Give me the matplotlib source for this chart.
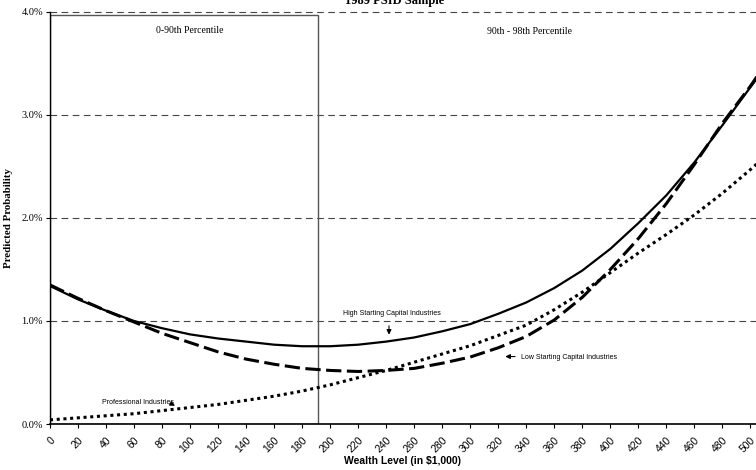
import matplotlib
matplotlib.use("Agg")
import matplotlib.pyplot as plt
from matplotlib.patches import Rectangle
from matplotlib.transforms import ScaledTranslation

# wealth level (in $1,000)
wealth = [0, 20, 40, 60, 80, 100, 120, 140, 160, 180, 200, 220, 240, 260,
          280, 300, 320, 340, 360, 380, 400, 420, 440, 460, 480, 500, 505]

# predicted probability (%)
high_capital = [1.34, 1.21, 1.10, 1.00, 0.93, 0.87, 0.83, 0.80, 0.77, 0.755,
                0.755, 0.77, 0.80, 0.84, 0.90, 0.97, 1.07, 1.18, 1.32, 1.49,
                1.70, 1.95, 2.22, 2.54, 2.90, 3.27, 3.36]
low_capital = [1.35, 1.22, 1.10, 0.99, 0.88, 0.79, 0.70, 0.63, 0.58, 0.54,
               0.52, 0.51, 0.52, 0.54, 0.59, 0.65, 0.74, 0.85, 1.01, 1.23,
               1.50, 1.80, 2.14, 2.52, 2.92, 3.28, 3.38]
professional = [0.04, 0.06, 0.08, 0.10, 0.13, 0.16, 0.19, 0.23, 0.27, 0.32,
                0.38, 0.45, 0.52, 0.60, 0.68, 0.76, 0.86, 0.96, 1.11, 1.28,
                1.47, 1.66, 1.84, 2.03, 2.24, 2.47, 2.53]

x_ticks = list(range(0, 501, 20))
y_ticks = [0, 1, 2, 3, 4]
pct90_cut = 191

serif = "Liberation Serif"
sans = "Liberation Sans"

fig = plt.figure(figsize=(7.56, 4.70), dpi=100)
ax = fig.add_axes([50 / 756, 46 / 470, 706 / 756, 412 / 470])

# percentile box
ax.add_patch(Rectangle((0, 0), pct90_cut, 3.97, fill=False, edgecolor="#555555",
                       linewidth=1.0, zorder=1))

for yv in y_ticks[1:]:
    ax.axhline(yv, color="#444444", linestyle=(0, (6, 4)), linewidth=0.8,
               clip_on=False, zorder=0)

ax.plot(wealth, high_capital, color="black", linewidth=1.6, zorder=3)
ax.plot(wealth, low_capital, color="black", linewidth=2.2,
        linestyle=(0, (5, 1.8)), zorder=3)
ax.plot(wealth, professional, color="black", linewidth=2.2,
        linestyle=(0, (1, 1.2)), dash_capstyle="butt", zorder=3)

ax.set_xlim(0, 504)
ax.set_ylim(0, 4.0)

ax.set_xticks(x_ticks)
ax.set_xticklabels([str(v) for v in x_ticks], rotation=45, ha="right",
                   rotation_mode="anchor", fontfamily=sans, fontsize=7.5)
# nudge the rotated labels a little to the left of their ticks
shift = ScaledTranslation(-4 / 100, 0, fig.dpi_scale_trans)
for lbl in ax.get_xticklabels():
    lbl.set_transform(lbl.get_transform() + shift)

ax.set_yticks(y_ticks)
ax.set_yticklabels(["%.1f%%" % v for v in y_ticks], fontfamily=serif, fontsize=7.5)
ax.tick_params(axis="both", direction="out", length=3, width=0.8, pad=2)
ax.tick_params(axis="x", pad=5)

for side in ["top", "right"]:
    ax.spines[side].set_visible(False)
ax.spines["left"].set_linewidth(1.0)
ax.spines["bottom"].set_linewidth(1.2)

ax.set_xlabel("Wealth Level (in \\$1,000)", fontfamily=sans, fontweight="bold",
              fontsize=7.5)
ax.xaxis.set_label_coords(0.5, -0.077)
ax.set_ylabel("Predicted Probability", fontfamily=serif, fontweight="bold",
              fontsize=7.8)
ax.yaxis.set_label_coords(-0.052, 0.5)

ax.text(100, 3.82, "0-90th Percentile", ha="center", va="center",
        fontfamily=serif, fontsize=7)
ax.text(342, 3.81, "90th - 98th Percentile", ha="center", va="center",
        fontfamily=serif, fontsize=7)

ax.text(244, 1.07, "High Starting Capital Industries", ha="center", va="center",
        fontfamily=sans, fontsize=5)
ax.annotate("", xy=(242, 0.84), xytext=(242, 0.98),
            arrowprops=dict(arrowstyle="-|>", color="black", lw=0.8,
                            mutation_scale=7))

ax.text(336, 0.65, "Low Starting Capital Industries", ha="left", va="center",
        fontfamily=sans, fontsize=5)
ax.annotate("", xy=(323, 0.655), xytext=(334, 0.655),
            arrowprops=dict(arrowstyle="-|>", color="black", lw=0.8,
                            mutation_scale=7))

ax.text(37, 0.205, "Professional Industries", ha="left", va="center",
        fontfamily=sans, fontsize=5)
ax.annotate("", xy=(91, 0.165), xytext=(86, 0.2),
            arrowprops=dict(arrowstyle="-|>", color="black", lw=0.8,
                            mutation_scale=7))

fig.text(395 / 756, 1 - 1 / 470, "1989 PSID Sample", ha="center", va="center",
         fontfamily=serif, fontweight="bold", fontsize=9)

fig.savefig("out.png", dpi=100)
